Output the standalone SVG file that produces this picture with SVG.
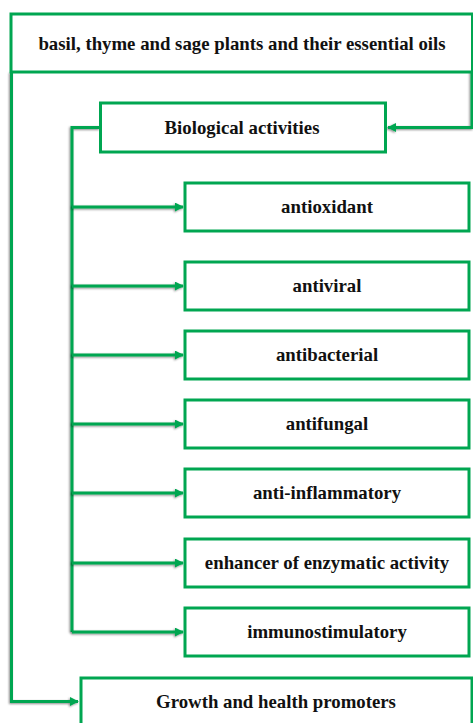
<svg xmlns="http://www.w3.org/2000/svg" width="473" height="723" viewBox="0 0 473 723">
<style>
.box{fill:#fff;stroke:#00a651;stroke-width:3}
.t{font-family:"Liberation Serif","Times New Roman",serif;font-weight:bold;font-size:18.8px;fill:#111;text-anchor:middle}
.c{fill:none;stroke:#00a651;stroke-width:3;filter:url(#sh)}
</style>
<defs>
<filter id="sh" filterUnits="userSpaceOnUse" x="0" y="0" width="473" height="723">
<feDropShadow dx="-1" dy="1" stdDeviation="1" flood-color="#000" flood-opacity="0.45"/>
</filter>
<marker id="ah" viewBox="0 0 10 10" refX="9" refY="5" markerWidth="3" markerHeight="3" orient="auto">
<path d="M0,0 L10,5 L0,10 z" fill="#00a651"/>
</marker>
</defs>
<g id="connectors">
<path class="c" d="M11.5,72 V701.5 H78" marker-end="url(#ah)"/>
<path class="c" d="M472,42 V127.5 H388" marker-end="url(#ah)"/>
<path class="c" d="M100,127.5 H72 V632"/>
<path class="c" d="M72,207 H183" marker-end="url(#ah)"/>
<path class="c" d="M72,286 H183" marker-end="url(#ah)"/>
<path class="c" d="M72,355 H183" marker-end="url(#ah)"/>
<path class="c" d="M72,424 H183" marker-end="url(#ah)"/>
<path class="c" d="M72,493 H183" marker-end="url(#ah)"/>
<path class="c" d="M72,563 H183" marker-end="url(#ah)"/>
<path class="c" d="M72,632 H183" marker-end="url(#ah)"/>
</g>
<g id="source">
<rect class="box" x="11" y="14" width="461.5" height="58"/>
<text class="t" x="242" y="50">basil, thyme and sage plants and their essential oils</text>
</g>
<g id="bio">
<rect class="box" x="100.5" y="103" width="285" height="49"/>
<text class="t" x="242" y="134">Biological activities</text>
</g>
<g id="antioxidant">
<rect class="box" x="185" y="183" width="284" height="48"/>
<text class="t" x="327" y="213">antioxidant</text>
</g>
<g id="antiviral">
<rect class="box" x="185" y="262" width="284" height="48"/>
<text class="t" x="327" y="292">antiviral</text>
</g>
<g id="antibacterial">
<rect class="box" x="185" y="331" width="284" height="48"/>
<text class="t" x="327" y="361">antibacterial</text>
</g>
<g id="antifungal">
<rect class="box" x="185" y="400" width="284" height="48"/>
<text class="t" x="327" y="430">antifungal</text>
</g>
<g id="antiinflammatory">
<rect class="box" x="185" y="469" width="284" height="48"/>
<text class="t" x="327" y="499">anti-inflammatory</text>
</g>
<g id="enhancer">
<rect class="box" x="185" y="539" width="284" height="48"/>
<text class="t" x="327" y="569">enhancer of enzymatic activity</text>
</g>
<g id="immuno">
<rect class="box" x="185" y="608" width="284" height="48"/>
<text class="t" x="327" y="638">immunostimulatory</text>
</g>
<g id="growth">
<rect class="box" x="81" y="678" width="391" height="60"/>
<text class="t" x="276" y="708">Growth and health promoters</text>
</g>
</svg>
